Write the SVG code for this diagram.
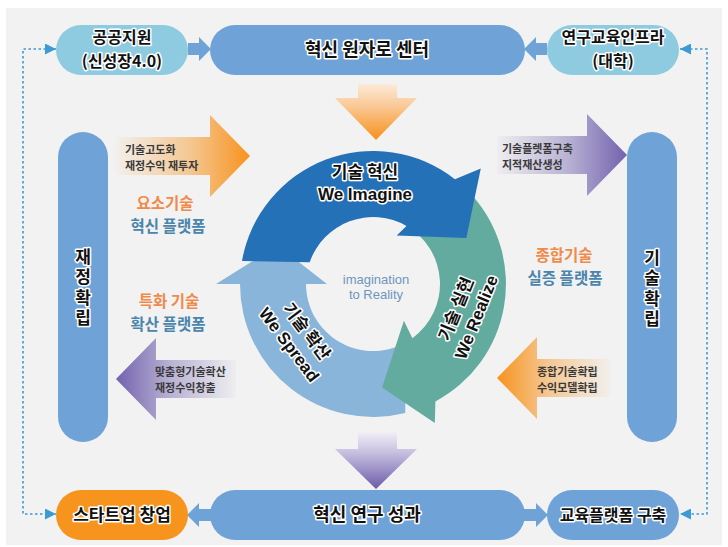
<svg xmlns="http://www.w3.org/2000/svg" width="728" height="547" viewBox="0 0 728 547">
<style>
.kr{font-family:"Noto Sans CJK KR","Noto Sans",sans-serif;font-weight:700}
.en{font-family:"Liberation Sans","Noto Sans CJK KR",sans-serif;font-weight:700}
.halo{paint-order:stroke;stroke:#fff;stroke-width:3;stroke-linejoin:round;fill:#111}
.pill{fill:#6FA3D8}
.lpill{fill:#8FCBE0}
.dash{fill:none;stroke:#3C9AD5;stroke-width:1.6;stroke-dasharray:2.5 2.5}
.small{font-size:11px;fill:#3a3a3a}
.orng{fill:#F08A4A}
.stl{fill:#4B85AC}
.vert{font-size:17px;writing-mode:vertical-rl;letter-spacing:3.5px}
</style>
<defs>
<marker id="ah" viewBox="0 0 10 10" refX="10" refY="5" markerWidth="12" markerHeight="11" markerUnits="userSpaceOnUse" orient="auto-start-reverse">
<path d="M0,0 L10,5 L0,10 z" fill="#3C9AD5"/>
</marker>
<linearGradient id="gOD" x1="0" y1="0" x2="0" y2="1"><stop offset="0" stop-color="#FCEAD8"/><stop offset="0.4" stop-color="#FAC896"/><stop offset="1" stop-color="#F7901A"/></linearGradient>
<linearGradient id="gPD" x1="0" y1="0" x2="0" y2="1"><stop offset="0" stop-color="#F1EFF6"/><stop offset="0.4" stop-color="#C2BADD"/><stop offset="1" stop-color="#6B5BA8"/></linearGradient>
<linearGradient id="gOR" x1="0" y1="0" x2="1" y2="0"><stop offset="0" stop-color="#F7931E" stop-opacity="0.03"/><stop offset="0.55" stop-color="#F7931E" stop-opacity="0.45"/><stop offset="1" stop-color="#F7931E"/></linearGradient>
<linearGradient id="gOL" x1="1" y1="0" x2="0" y2="0"><stop offset="0" stop-color="#F7931E" stop-opacity="0.03"/><stop offset="0.55" stop-color="#F7931E" stop-opacity="0.45"/><stop offset="1" stop-color="#F7931E"/></linearGradient>
<linearGradient id="gPR" x1="0" y1="0" x2="1" y2="0"><stop offset="0" stop-color="#7262AE" stop-opacity="0.03"/><stop offset="0.55" stop-color="#7262AE" stop-opacity="0.45"/><stop offset="1" stop-color="#7262AE"/></linearGradient>
<linearGradient id="gPL" x1="1" y1="0" x2="0" y2="0"><stop offset="0" stop-color="#7262AE" stop-opacity="0.03"/><stop offset="0.55" stop-color="#7262AE" stop-opacity="0.45"/><stop offset="1" stop-color="#7262AE"/></linearGradient>
</defs>

<rect x="6" y="8" width="716" height="537" fill="#F2F2F2"/>

<g id="connectors">
<path class="dash" d="M56,49 H23 V514 H56" marker-start="url(#ah)" marker-end="url(#ah)"/>
<path class="dash" d="M680,49 H707 V514 H680" marker-start="url(#ah)" marker-end="url(#ah)"/>
<polygon class="pill" points="188,43 199,43 199,37 211,49 199,61 199,55 188,55"/>
<polygon class="pill" points="547,43 536,43 536,37 524,49 536,61 536,55 547,55"/>
<polygon class="pill" points="211,509 199,509 199,503 187,515 199,527 199,521 211,521"/>
<polygon class="pill" points="524,509 536,509 536,503 548,515 536,527 536,521 524,521"/>
<polygon fill="url(#gOD)" points="358,84 397,84 397,98 417,98 376,140 335,98 358,98"/>
<polygon fill="url(#gPD)" points="358,432 397,432 397,449 417,449 376,489 335,449 358,449"/>
<polygon fill="url(#gOR)" points="116,137 210,137 210,115 250,156 210,197 210,175 116,175"/>
<polygon fill="url(#gPR)" points="497,136 587,136 587,114 627,155 587,196 587,174 497,174"/>
<polygon fill="url(#gPL)" points="236,360 156,360 156,338 116,379 156,420 156,398 236,398"/>
<polygon fill="url(#gOL)" points="610,359 537,359 537,337 497,378 537,419 537,397 610,397"/>
</g>

<g id="arrow-texts" class="kr small">
<text x="125" y="154">기술고도화<tspan x="125" dy="16">재정수익 재투자</tspan></text>
<text x="502" y="153">기술플렛폼구축<tspan x="502" dy="16">지적재산생성</tspan></text>
<text x="155" y="376">맞춤형기술확산<tspan x="155" dy="16">재정수익창출</tspan></text>
<text x="537" y="376">종합기술확립<tspan x="537" dy="16">수익모델확립</tspan></text>
</g>

<g id="n-public">
<rect class="lpill" x="56" y="25" width="132" height="50" rx="25"/>
<text class="kr halo" font-size="16" x="122" y="43" text-anchor="middle">공공지원<tspan x="122" dy="23.5">(신성장4.0)</tspan></text>
</g>
<g id="n-center">
<rect class="pill" x="210" y="25" width="315" height="50" rx="25"/>
<text class="kr halo" font-size="18" x="367" y="56" text-anchor="middle">혁신 원자로 센터</text>
</g>
<g id="n-infra">
<rect class="lpill" x="547" y="25" width="132" height="50" rx="25"/>
<text class="kr halo" font-size="16" x="613" y="43" text-anchor="middle">연구교육인프라<tspan x="613" dy="23.5">(대학)</tspan></text>
</g>

<g id="n-finance">
<rect class="pill" x="58" y="132" width="50" height="310" rx="25"/>
<text class="kr halo vert" x="83" y="289" text-anchor="middle">재정확립</text>
</g>
<g id="n-tech">
<rect class="pill" x="627" y="132" width="50" height="310" rx="25"/>
<text class="kr halo vert" x="652" y="290" text-anchor="middle">기술확립</text>
</g>

<g id="labels" class="kr" text-anchor="middle" font-size="15.5">
<text x="165" y="209"><tspan class="orng">요소기술</tspan><tspan class="stl" x="168" dy="22.5">혁신 플랫폼</tspan></text>
<text x="169" y="307"><tspan class="orng">특화 기술</tspan><tspan class="stl" x="168" dy="22.5">확산 플랫폼</tspan></text>
<text x="564" y="261"><tspan class="orng">종합기술</tspan><tspan class="stl" x="565" dy="23">실증 플랫폼</tspan></text>
</g>

<g id="cycle">
<path id="c-spread" fill="#89B5DA" d="M405.2,413 A133,133 0 0 1 240,284 L216,284 L277.5,245.4 L327,284 L306,284 A67,67 0 0 0 406.5,342 Z"/>
<path id="c-realize" fill="#62AB9E" d="M471.8,195 A133,133 0 0 1 435.4,401.4 L434.8,422.9 L382.1,387.6 L403.9,320.8 L412.4,338.2 A67,67 0 0 0 406.5,226 Z"/>
<path id="c-imagine" fill="#2471B8" d="M242,260.9 A133,133 0 0 1 454.9,179.2 L480.8,168.4 L466.3,238 L396.7,235.5 L406.5,226 A67,67 0 0 0 309.7,262.2 Z"/>
<text class="halo" font-size="17" x="365" y="178" text-anchor="middle"><tspan class="kr">기술 혁신</tspan><tspan class="en" x="365" dy="22">We Imagine</tspan></text>
<g transform="translate(466,313) rotate(-68)" text-anchor="middle">
<text class="halo" font-size="17" x="0" y="-5"><tspan class="kr">기술 실현</tspan><tspan class="en" x="0" dy="22">We Realize</tspan></text>
</g>
<g transform="translate(298,338) rotate(53)" text-anchor="middle">
<text class="halo" font-size="17" x="0" y="-5"><tspan class="kr">기술 확산</tspan><tspan class="en" x="0" dy="22">We Spread</tspan></text>
</g>
<text font-family="Liberation Sans, sans-serif" font-size="13" fill="#6F95BF" x="376" y="284" text-anchor="middle">imagination<tspan x="376" dy="15">to Reality</tspan></text>
</g>

<g id="n-startup">
<rect x="56" y="490" width="132" height="50" rx="25" fill="#F7941D"/>
<text class="kr halo" font-size="17" x="122" y="521" text-anchor="middle">스타트업 창업</text>
</g>
<g id="n-result">
<rect class="pill" x="210" y="490" width="315" height="50" rx="25"/>
<text class="kr halo" font-size="18" x="367" y="521" text-anchor="middle">혁신 연구 성과</text>
</g>
<g id="n-edu">
<rect class="pill" x="547" y="490" width="132" height="50" rx="25"/>
<text class="kr halo" font-size="16" x="613" y="521" text-anchor="middle">교육플랫폼 구축</text>
</g>
</svg>
